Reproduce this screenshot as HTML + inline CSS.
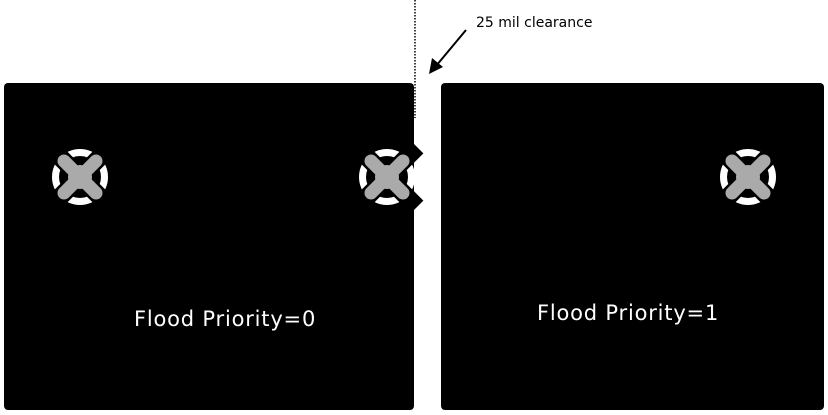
<!DOCTYPE html>
<html><head><style>html,body{margin:0;padding:0;background:#fff;width:828px;height:415px;overflow:hidden}</style></head>
<body>
<svg width="828" height="415" viewBox="0 0 828 415" xmlns="http://www.w3.org/2000/svg">
<defs>
<g id="th">
  <circle r="28" fill="#fff"/>
  <circle r="21" fill="#000"/>
  <g stroke="#000" stroke-width="18">
    <line x1="-30" y1="-30" x2="30" y2="30"/><line x1="-30" y1="30" x2="30" y2="-30"/>
  </g>
  <g stroke="#aaa" stroke-width="13" stroke-linecap="round">
    <line x1="-16" y1="-16" x2="16" y2="16"/><line x1="-16" y1="16" x2="16" y2="-16"/>
  </g>
  <circle r="12" fill="#aaa"/>
</g>
</defs>
<rect x="4" y="83" width="410" height="327" rx="4" fill="#000"/>
<path d="M405 148 L420 152 L414 162 L414 192 L420 202 L405 206 Z" fill="#000"/>
<rect x="441" y="83" width="383" height="327" rx="4" fill="#000"/>
<line x1="415" y1="0" x2="415" y2="118" stroke="#000" stroke-width="1.5" stroke-dasharray="1.5 1.5"/>
<use href="#th" x="80" y="177"/>
<use href="#th" x="387" y="177"/>
<use href="#th" x="748" y="177"/>
<line x1="466" y1="30" x2="436" y2="66" stroke="#000" stroke-width="2"/>
<polygon points="429,74 432,58 443,67" fill="#000"/>
<text x="476" y="27" font-family="DejaVu Sans, Verdana, sans-serif" font-size="14" fill="#000">25 mil clearance</text>
<text x="134" y="326" font-family="DejaVu Sans, Verdana, sans-serif" font-size="21" letter-spacing="0.8" fill="#fff">Flood Priority=0</text>
<text x="537" y="320" font-family="DejaVu Sans, Verdana, sans-serif" font-size="21" letter-spacing="0.8" fill="#fff">Flood Priority=1</text>
</svg>
</body></html>
